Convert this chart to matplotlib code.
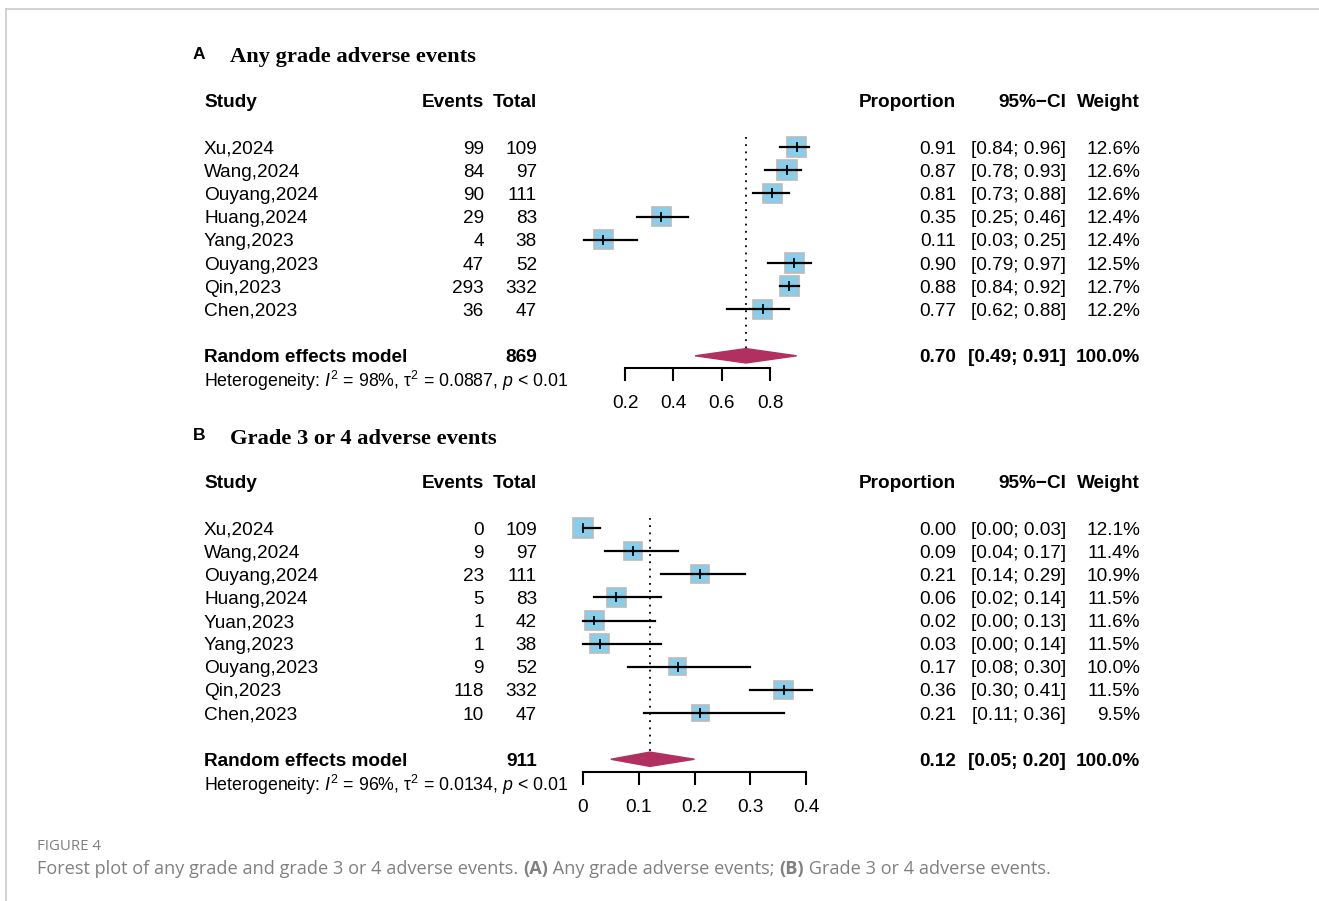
import matplotlib
matplotlib.use('Agg')
import matplotlib.pyplot as plt
import matplotlib.transforms as mtransforms
from matplotlib.patches import Rectangle, Polygon
from matplotlib.lines import Line2D

# panel A data
studies_a = ['Xu,2024', 'Wang,2024', 'Ouyang,2024', 'Huang,2024', 'Yang,2023',
             'Ouyang,2023', 'Qin,2023', 'Chen,2023']
events_a = [99, 84, 90, 29, 4, 47, 293, 36]
total_a = [109, 97, 111, 83, 38, 52, 332, 47]
prop_a = [0.91, 0.87, 0.81, 0.35, 0.11, 0.90, 0.88, 0.77]
lo_a = [0.84, 0.78, 0.73, 0.25, 0.03, 0.79, 0.84, 0.62]
hi_a = [0.96, 0.93, 0.88, 0.46, 0.25, 0.97, 0.92, 0.88]
weight_a = [12.6, 12.6, 12.6, 12.4, 12.4, 12.5, 12.7, 12.2]
re_a = (0.70, 0.49, 0.91)
n_a = 869
het_a = ('98%', '0.0887', '0.01')
ticks_a = [0.2, 0.4, 0.6, 0.8]

# panel B data
studies_b = ['Xu,2024', 'Wang,2024', 'Ouyang,2024', 'Huang,2024', 'Yuan,2023',
             'Yang,2023', 'Ouyang,2023', 'Qin,2023', 'Chen,2023']
events_b = [0, 9, 23, 5, 1, 1, 9, 118, 10]
total_b = [109, 97, 111, 83, 42, 38, 52, 332, 47]
prop_b = [0.00, 0.09, 0.21, 0.06, 0.02, 0.03, 0.17, 0.36, 0.21]
lo_b = [0.00, 0.04, 0.14, 0.02, 0.00, 0.00, 0.08, 0.30, 0.11]
hi_b = [0.03, 0.17, 0.29, 0.14, 0.13, 0.14, 0.30, 0.41, 0.36]
weight_b = [12.1, 11.4, 10.9, 11.5, 11.6, 11.5, 10.0, 11.5, 9.5]
re_b = (0.12, 0.05, 0.20)
n_b = 911
het_b = ('96%', '0.0134', '0.01')
ticks_b = [0, 0.1, 0.2, 0.3, 0.4]

W, H = 1319, 901
FS = 13.7
SANS = 'Liberation Sans'
plt.rcParams['font.family'] = SANS
plt.rcParams['mathtext.fontset'] = 'custom'
plt.rcParams['mathtext.rm'] = SANS
plt.rcParams['mathtext.it'] = SANS + ':italic'

fig = plt.figure(figsize=(W / 100, H / 100), dpi=100)


def panel(letter, title, studies, events, total, prop, lo, hi, weight, re, ntot, het, ticks,
          xpx0, xpx1, xmin, xmax, row0, step, toppx, botpx, tick_fmt):
    ax = fig.add_axes([xpx0 / W, 1 - botpx / H, (xpx1 - xpx0) / W, (botpx - toppx) / H])
    ax.set_xlim(xmin, xmax)
    ax.set_ylim((botpx - row0) / step, (toppx - row0) / step)
    ax.patch.set_visible(False)
    for s in ['top', 'right', 'left']:
        ax.spines[s].set_visible(False)
    ax.spines['bottom'].set_bounds(ticks[0], ticks[-1])
    ax.spines['bottom'].set_linewidth(1.5)
    ax.set_yticks([])
    ax.set_xticks(ticks)
    ax.set_xticklabels([tick_fmt(t) for t in ticks])
    ax.tick_params(axis='x', direction='out', length=9.5, width=1.5, pad=10, labelsize=FS)

    pxx = (xpx1 - xpx0) / (xmax - xmin)
    k = len(studies)
    re_row = k + 1
    # reference line
    ax.plot([re[0], re[0]], [-0.42, re_row - 0.3], ls=(0, (1, 3)), color='black', lw=1.3, clip_on=False)
    for i in range(k):
        side = 5.5 * weight[i] ** 0.5
        w = side / pxx
        h = side / step
        ax.add_patch(Rectangle((prop[i] - w / 2, i - h / 2), w, h, facecolor='#87CEEB',
                               edgecolor='#BBBBBB', lw=1.2, clip_on=False, zorder=2))
        ax.plot([lo[i], hi[i]], [i, i], color='black', lw=1.6, clip_on=False, zorder=3)
        ax.plot([prop[i], prop[i]], [i - 0.17, i + 0.17], color='black', lw=1.3, clip_on=False, zorder=3)
    dh = 0.31
    ax.add_patch(Polygon([(re[1], re_row), (re[0], re_row - dh), (re[2], re_row), (re[0], re_row + dh)],
                         closed=True, facecolor='#B03060', edgecolor='#B03060', clip_on=False, zorder=3))

    tr = mtransforms.blended_transform_factory(fig.transFigure, ax.transData)
    dy = 0.09  # text sits a touch lower than the marks

    def t(xp, row, s, ha='left', bold=False, **kw):
        ax.text(xp / W, row + dy, s, transform=tr, ha=ha, va='center', fontsize=kw.pop('fs', FS),
                fontweight='bold' if bold else 'normal', clip_on=False, **kw)

    t(193, -4.08, letter, bold=True, fs=12.5)
    t(230, -3.95, title, bold=True, fs=16.2, family='Liberation Serif')
    t(204, -2, 'Study', bold=True)
    t(484, -2, 'Events', ha='right', bold=True)
    t(537, -2, 'Total', ha='right', bold=True)
    t(956, -2, 'Proportion', ha='right', bold=True)
    t(1066, -2, '95%\u2212CI', ha='right', bold=True)
    t(1140, -2, 'Weight', ha='right', bold=True)
    for i in range(k):
        t(204, i, studies[i])
        t(484, i, str(events[i]), ha='right')
        t(537, i, str(total[i]), ha='right')
        t(956, i, '%.2f' % prop[i], ha='right')
        t(1066, i, '[%.2f; %.2f]' % (lo[i], hi[i]), ha='right')
        t(1140, i, '%.1f%%' % weight[i], ha='right')
    t(204, re_row, 'Random effects model', bold=True)
    t(537, re_row, str(ntot), ha='right', bold=True)
    t(956, re_row, '%.2f' % re[0], ha='right', bold=True)
    t(1066, re_row, '[%.2f; %.2f]' % (re[1], re[2]), ha='right', bold=True)
    t(1140, re_row, '100.0%', ha='right', bold=True)
    t(204, re_row + 1.0,
      'Heterogeneity: $I^2$ = %s, \u03c4$^2$ = %s, $p$ < %s' % het, fs=12.75)
    return ax


panel('A', 'Any grade adverse events', studies_a, events_a, total_a, prop_a, lo_a, hi_a,
      weight_a, re_a, n_a, het_a, ticks_a, 576.7, 818.4, 0, 1, 147, 23.2, 120, 368,
      lambda v: '%.1f' % v)
panel('B', 'Grade 3 or 4 adverse events', studies_b, events_b, total_b, prop_b, lo_b, hi_b,
      weight_b, re_b, n_b, het_b, ticks_b, 583, 806, 0, 0.4, 528, 23.125, 500, 772,
      lambda v: '0' if v == 0 else '%.1f' % v)

# frame lines like the journal page
fig.add_artist(Line2D([6 / W, 1], [1 - 9 / H, 1 - 9 / H], transform=fig.transFigure, color='#CCCCCC', lw=1.2))
fig.add_artist(Line2D([6 / W, 6 / W], [0, 1 - 9 / H], transform=fig.transFigure, color='#CCCCCC', lw=1.2))

# caption
cap_col = '#808080'
fig.text(37 / W, 1 - 846 / H, 'FIGURE 4', family='Open Sans', fontsize=10.8, color=cap_col, va='center')
pieces = [('Forest plot of any grade and grade 3 or 4 adverse events. ', 'normal'),
          ('(A)', 'bold'), (' Any grade adverse events; ', 'normal'),
          ('(B)', 'bold'), (' Grade 3 or 4 adverse events.', 'normal')]
r = fig.canvas.get_renderer()
xp = 37
for s, wgt in pieces:
    tx = fig.text(xp / W, 1 - 869 / H, s, family='Open Sans', fontsize=13.05, color=cap_col,
                  fontweight=wgt, va='center')
    xp += tx.get_window_extent(renderer=r).width

fig.savefig('out.png', dpi=100)
